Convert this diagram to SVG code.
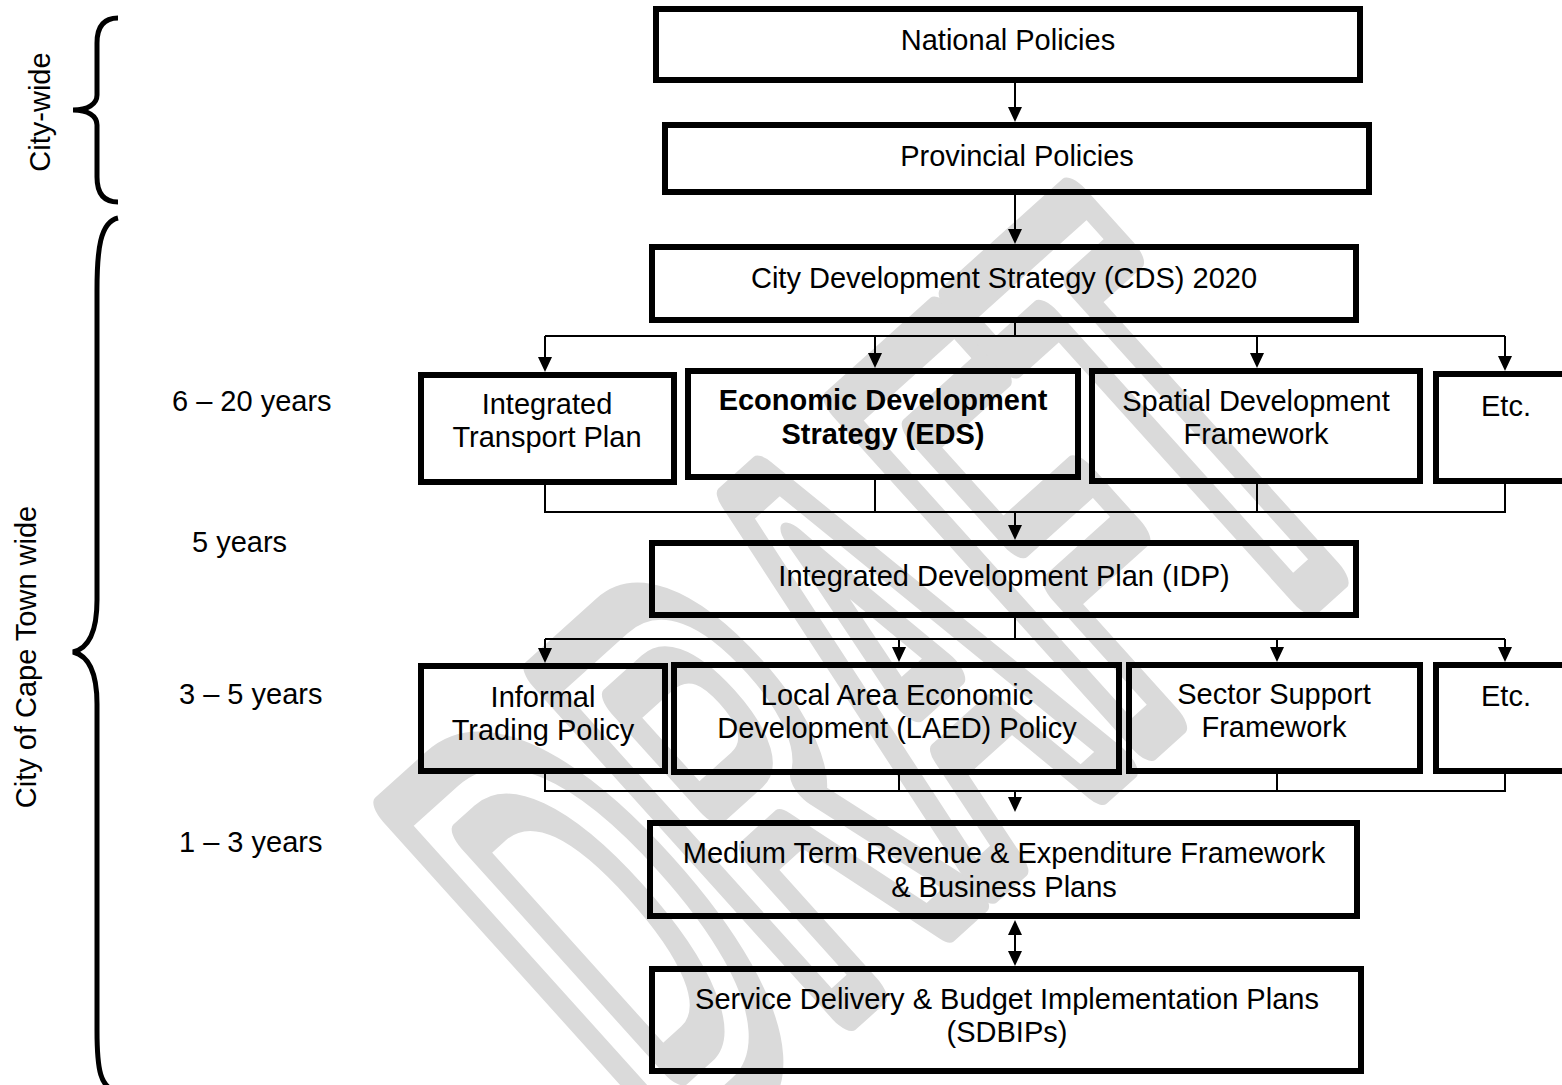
<svg xmlns="http://www.w3.org/2000/svg" width="1562" height="1085" viewBox="0 0 1562 1085">
<defs>
<style>
.box{fill:none;stroke:#000;stroke-width:6}
.t{font-family:"Liberation Sans",Arial,sans-serif;font-size:29px;fill:#000;text-anchor:middle}
.lbl{font-family:"Liberation Sans",Arial,sans-serif;font-size:29px;fill:#000}
.b{font-weight:bold}
.con{fill:none;stroke:#000;stroke-width:2}
.brace{fill:none;stroke:#000;stroke-width:5;stroke-linecap:butt;stroke-linejoin:miter}
.wm{font-family:"Liberation Sans",Arial,sans-serif;font-weight:bold;font-size:650px;fill:none;stroke:#dadada;stroke-width:36;stroke-linejoin:round}
</style>
<marker id="ah" markerUnits="userSpaceOnUse" markerWidth="16" markerHeight="16" viewBox="0 -8 16 16" refX="0" refY="0" orient="auto-start-reverse">
<path d="M0,-7 L15,0 L0,7 z" fill="#000"/>
</marker>
</defs>
<rect width="1562" height="1085" fill="#fff"/>
<g id="watermark">
<text class="wm" vector-effect="non-scaling-stroke" transform="translate(676,1160) rotate(-42) scale(0.43,1)">DRAFT</text>
</g>
<g id="side-labels">
<path class="brace" d="M118,18 C104,18 97,26 97,43 L97,95 C97,104 88,110 73,110 C88,110 97,116 97,125 L97,177 C97,194 104,202 118,202"/>
<path class="brace" d="M118,218 C100,222 97,250 97,290 L97,600 C97,630 90,648 73,652 C90,656 97,674 97,704 L97,1030 C97,1070 100,1088 118,1092"/>
<text class="t" transform="translate(50,112) rotate(-90)">City-wide</text>
<text class="t" transform="translate(36,657) rotate(-90)">City of Cape Town wide</text>
<text class="lbl" x="172" y="411">6 – 20 years</text>
<text class="lbl" x="192" y="552">5 years</text>
<text class="lbl" x="179" y="704">3 – 5 years</text>
<text class="lbl" x="179" y="852">1 – 3 years</text>
</g>
<g id="connectors">
<path class="con" d="M1015,83 V107" marker-end="url(#ah)"/>
<path class="con" d="M1015,195 V229" marker-end="url(#ah)"/>
<path class="con" d="M1015,323 V336 M545,336 H1505"/>
<path class="con" d="M545,336 V357" marker-end="url(#ah)"/>
<path class="con" d="M875,336 V353" marker-end="url(#ah)"/>
<path class="con" d="M1257,336 V353" marker-end="url(#ah)"/>
<path class="con" d="M1505,336 V356" marker-end="url(#ah)"/>
<path class="con" d="M545,485 V512 H1505 V484 M875,480 V512 M1257,484 V512"/>
<path class="con" d="M1015,512 V525" marker-end="url(#ah)"/>
<path class="con" d="M1015,618 V639 M545,639 H1505"/>
<path class="con" d="M545,639 V648" marker-end="url(#ah)"/>
<path class="con" d="M899,639 V647" marker-end="url(#ah)"/>
<path class="con" d="M1277,639 V647" marker-end="url(#ah)"/>
<path class="con" d="M1505,639 V647" marker-end="url(#ah)"/>
<path class="con" d="M545,774 V791 H1505 V774 M899,775 V791 M1277,774 V791"/>
<path class="con" d="M1015,791 V797" marker-end="url(#ah)"/>
<path class="con" d="M1015,935 V951" marker-start="url(#ah)" marker-end="url(#ah)"/>
</g>
<g id="national">
<rect class="box" x="656" y="9" width="704" height="71"/>
<text class="t" x="1008" y="50">National Policies</text>
</g>
<g id="provincial">
<rect class="box" x="665" y="125" width="704" height="67"/>
<text class="t" x="1017" y="166">Provincial Policies</text>
</g>
<g id="cds">
<rect class="box" x="652" y="247" width="704" height="73"/>
<text class="t" x="1004" y="288">City Development Strategy (CDS) 2020</text>
</g>
<g id="itp">
<rect class="box" x="421" y="375" width="253" height="107"/>
<text class="t" x="547" y="414">Integrated</text>
<text class="t" x="547" y="447">Transport Plan</text>
</g>
<g id="eds">
<rect class="box" x="688" y="371" width="390" height="106"/>
<text class="t b" x="883" y="410">Economic Development</text>
<text class="t b" x="883" y="444">Strategy (EDS)</text>
</g>
<g id="sdf">
<rect class="box" x="1092" y="371" width="328" height="110"/>
<text class="t" x="1256" y="411">Spatial Development</text>
<text class="t" x="1256" y="444">Framework</text>
</g>
<g id="etc1">
<rect class="box" x="1436" y="374" width="140" height="107"/>
<text class="t" x="1506" y="416">Etc.</text>
</g>
<g id="idp">
<rect class="box" x="652" y="543" width="704" height="72"/>
<text class="t" x="1004" y="586">Integrated Development Plan (IDP)</text>
</g>
<g id="informal">
<rect class="box" x="421" y="666" width="244" height="105"/>
<text class="t" x="543" y="707">Informal</text>
<text class="t" x="543" y="740">Trading Policy</text>
</g>
<g id="laed">
<rect class="box" x="674" y="665" width="445" height="107"/>
<text class="t" x="897" y="705">Local Area Economic</text>
<text class="t" x="897" y="738">Development (LAED) Policy</text>
</g>
<g id="sector">
<rect class="box" x="1129" y="665" width="291" height="106"/>
<text class="t" x="1274" y="704">Sector Support</text>
<text class="t" x="1274" y="737">Framework</text>
</g>
<g id="etc2">
<rect class="box" x="1436" y="665" width="140" height="106"/>
<text class="t" x="1506" y="706">Etc.</text>
</g>
<g id="mtref">
<rect class="box" x="650" y="823" width="707" height="93"/>
<text class="t" x="1004" y="863">Medium Term Revenue &amp; Expenditure Framework</text>
<text class="t" x="1004" y="897">&amp; Business Plans</text>
</g>
<g id="sdbip">
<rect class="box" x="652" y="969" width="709" height="102"/>
<text class="t" x="1007" y="1009">Service Delivery &amp; Budget Implementation Plans</text>
<text class="t" x="1007" y="1042">(SDBIPs)</text>
</g>
</svg>
